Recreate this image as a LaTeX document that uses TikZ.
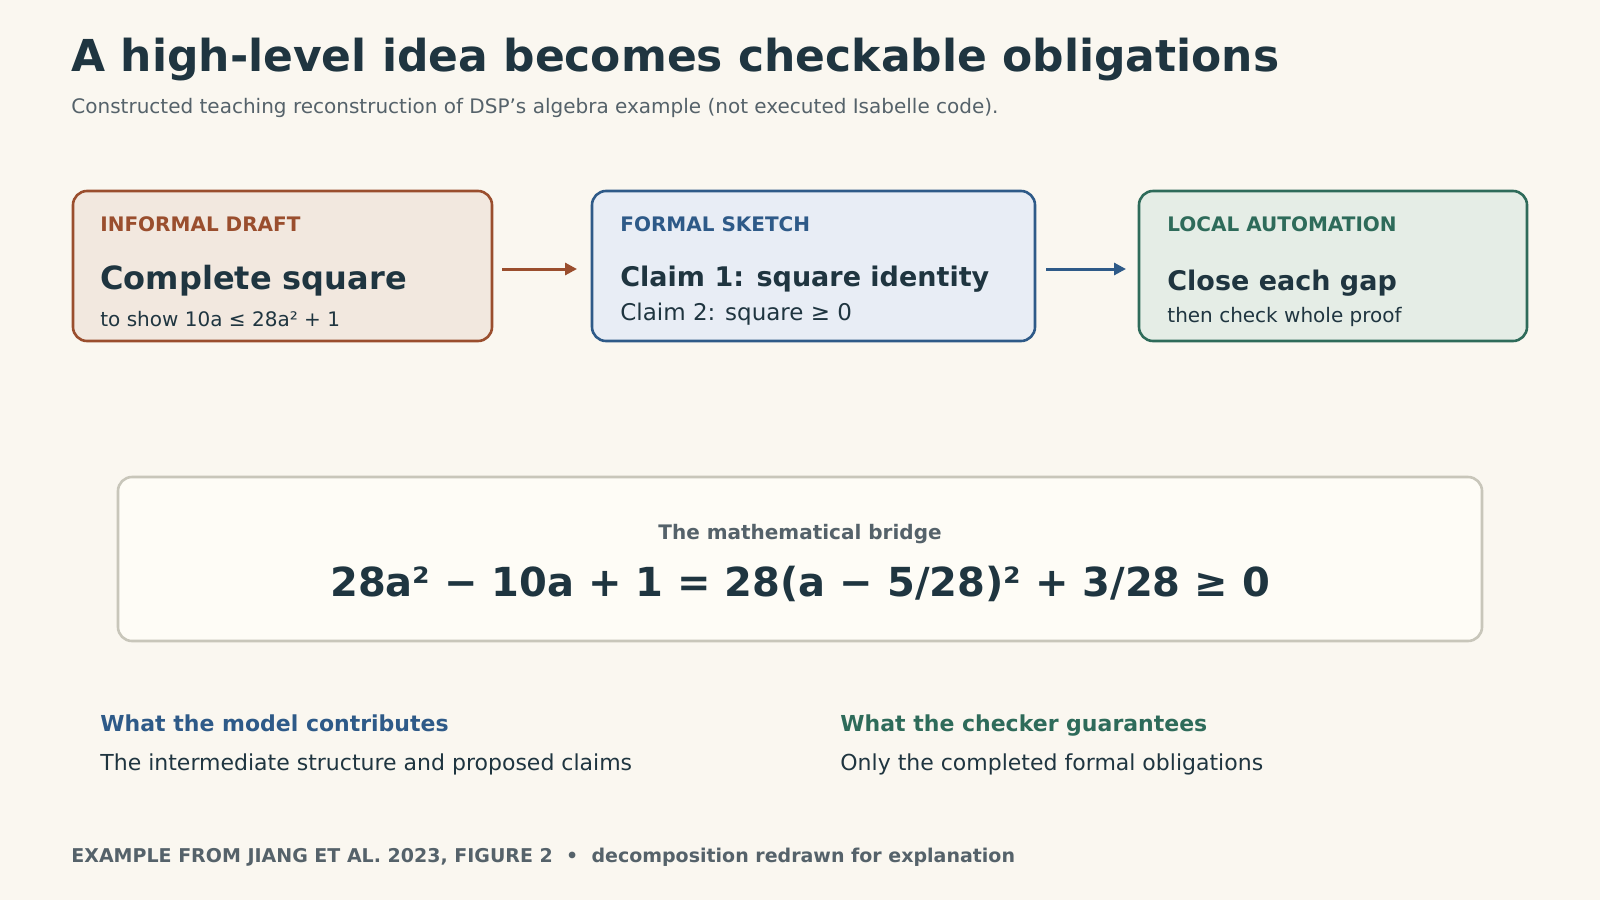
\documentclass[tikz,border=0pt]{standalone}
\usepackage{fontspec}
\setmainfont{DejaVu Sans}
\usetikzlibrary{positioning,arrows.meta}
\definecolor{bgcol}{HTML}{FAF7F0}
\definecolor{ink}{HTML}{1F3540}
\definecolor{muted}{HTML}{55626A}
\definecolor{draftcol}{HTML}{9A4E2E}
\definecolor{sketchcol}{HTML}{2E5A88}
\definecolor{autocol}{HTML}{2E6B5A}
\definecolor{draftfill}{HTML}{F2E8DF}
\definecolor{sketchfill}{HTML}{E8EDF5}
\definecolor{autofill}{HTML}{E5EDE6}
\definecolor{bridgefill}{HTML}{FEFCF6}
\definecolor{bridgeline}{HTML}{C8C6BA}
\tikzset{
    stage/.style={draw=#1, line width=1.3pt, rounded corners=7pt},
    txt/.style={anchor=base west, inner sep=0pt, text=ink},
    tag/.style={txt, font=\fontsize{10}{12}\selectfont\bfseries},
    flow/.style={line width=1.5pt, -{Triangle[length=6pt,width=6pt]}}
}
\begin{document}
\begin{tikzpicture}[x=0.5pt, y=-0.5pt]
        \fill[bgcol] (0,0) rectangle (1600,900);
        \useasboundingbox (0,0) rectangle (1600,900);
        \node[txt, font=\fontsize{22}{26}\selectfont\bfseries] (title) at (71,71)
            {A high-level idea becomes checkable obligations};
        \node[txt, text=muted, font=\fontsize{10}{12}\selectfont] (subtitle) at (71,113)
            {Constructed teaching reconstruction of DSP's algebra example (not executed Isabelle code).};
        % three stages
        \draw[stage=draftcol, fill=draftfill] (73,191) rectangle (492,341);
        \draw[stage=sketchcol, fill=sketchfill] (592,191) rectangle (1035,341);
        \draw[stage=autocol, fill=autofill] (1139,191) rectangle (1527,341);
        \node[tag, text=draftcol] (draft) at (100,231) {INFORMAL DRAFT};
        \node[txt, font=\fontsize{16}{19}\selectfont\bfseries] (square) at (100,289) {Complete square};
        \node[txt, font=\fontsize{10}{12}\selectfont] (goal) at (100,326) {to show 10a ≤ 28a² + 1};
        \node[tag, text=sketchcol] (sketch) at (620,231) {FORMAL SKETCH};
        \node[txt, font=\fontsize{13.5}{16}\selectfont\bfseries] (claim1) at (620,286) {Claim 1: square identity};
        \node[txt, font=\fontsize{11.5}{14}\selectfont] (claim2) at (620,320) {Claim 2: square ≥ 0};
        \node[tag, text=autocol] (auto) at (1167,231) {LOCAL AUTOMATION};
        \node[txt, font=\fontsize{13.5}{16}\selectfont\bfseries] (gap) at (1167,290) {Close each gap};
        \node[txt, font=\fontsize{10}{12}\selectfont] (whole) at (1167,322) {then check whole proof};
        \coordinate (a1) at (502,269);
        \coordinate (a2) at (577,269);
        \coordinate (b1) at (1046,269);
        \coordinate (b2) at (1126,269);
        \draw[flow, draftcol] (a1) -- (a2);
        \draw[flow, sketchcol] (b1) -- (b2);
        % bridge
        \draw[draw=bridgeline, fill=bridgefill, line width=1.3pt, rounded corners=7pt]
            (118,477) rectangle (1482,641);
        \node[anchor=base, inner sep=0pt, text=muted, font=\fontsize{10}{12}\selectfont\bfseries]
            (bridge) at (800,539) {The mathematical bridge};
        \node[anchor=base, inner sep=0pt, text=ink, font=\fontsize{20}{24}\selectfont\bfseries]
            (eq) at (800,596) {28a² − 10a + 1 = 28(a − 5/28)² + 3/28 ≥ 0};
        % two columns
        \node[txt, text=sketchcol, font=\fontsize{11}{13}\selectfont\bfseries] (model) at (100,731)
            {What the model contributes};
        \node[txt, font=\fontsize{11}{13}\selectfont] (modeltxt) at (100,770)
            {The intermediate structure and proposed claims};
        \node[txt, text=autocol, font=\fontsize{11}{13}\selectfont\bfseries] (checker) at (840,731)
            {What the checker guarantees};
        \node[txt, font=\fontsize{11}{13}\selectfont] (checkertxt) at (840,770)
            {Only the completed formal obligations};
        \node[txt, text=muted, font=\fontsize{9.5}{11}\selectfont\bfseries] (footer) at (71,862)
            {EXAMPLE FROM JIANG ET AL. 2023, FIGURE 2 ~•~ decomposition redrawn for explanation};
\end{tikzpicture}
\end{document}
